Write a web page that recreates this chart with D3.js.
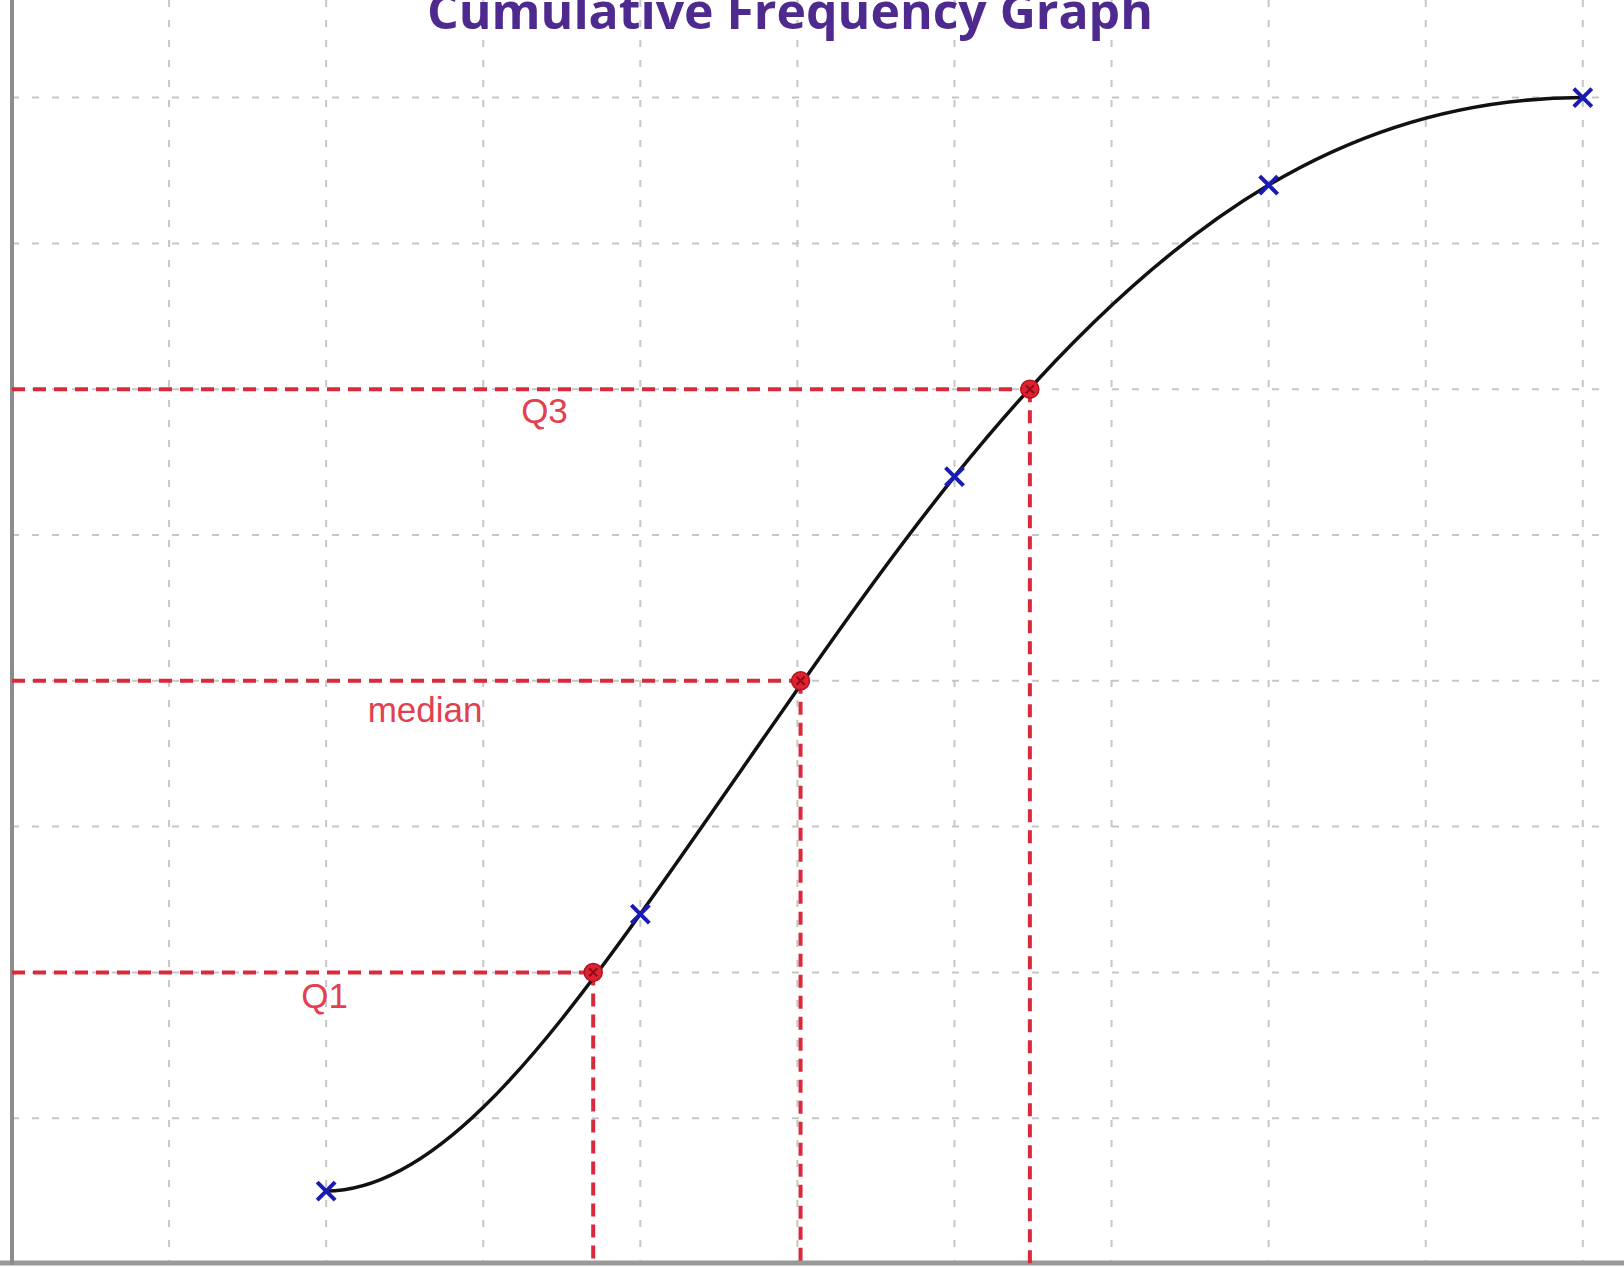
<!DOCTYPE html>
<html>
<head>
<meta charset="utf-8">
<script src="https://cdn.jsdelivr.net/npm/d3@7"></script>
<style>
  html, body { margin: 0; padding: 0; background: #ffffff; }
  svg { display: block; }
</style>
</head>
<body>
<svg id="chart" width="1624" height="1268"></svg>
<script>
// ---- data ----
const title = "Cumulative Frequency Graph";
const upperBounds = [2, 4, 6, 8, 10];          // x positions of plotted points (grid units)
const cumulativeFreq = [5, 24, 54, 74, 80];    // cumulative frequencies
const quartileNames = ["Q1", "median", "Q3"];
const quartileValues = [20, 40, 60];           // cumulative frequency at quartiles
const quartileX = [3.70, 5.02, 6.48];          // x read where the quartile lines meet the curve
const labelX = [1.99, 2.63, 3.39];             // label centres (grid units)
const labelDy = [36, 41, 34];                  // label baseline offset below its line (px)
const xGrid = [1, 2, 3, 4, 5, 6, 7, 8, 9, 10];
const yGrid = [10, 20, 30, 40, 50, 60, 70, 80];

// ---- layout ----
const W = 1624, H = 1268;
const x0 = 12, yBase = 1264;
const x = d3.scaleLinear().domain([0, 10.18]).range([x0, x0 + 10.18 * 157.08]);
const y = d3.scaleLinear().domain([0, 86.7]).range([yBase, yBase - 86.7 * 14.58]);

const svg = d3.select("#chart");

// clamped (zero end slope) cubic spline curve for d3.line
function ClampedSpline(context) { this._context = context; }
ClampedSpline.prototype = {
  areaStart() { this._line = 0; },
  areaEnd() { this._line = NaN; },
  lineStart() { this._xs = []; this._ys = []; },
  point(px, py) { this._xs.push(+px); this._ys.push(+py); },
  lineEnd() {
    const X = this._xs, Y = this._ys, n = X.length, c = this._context;
    if (!n) return;
    c.moveTo(X[0], Y[0]);
    if (n === 1) return;
    const h = [], d = [];
    for (let i = 0; i < n - 1; i++) { h[i] = X[i + 1] - X[i]; d[i] = (Y[i + 1] - Y[i]) / h[i]; }
    const m = new Array(n).fill(0);
    const k = n - 2;
    if (k > 0) {
      const a = [], b = [], cc = [], r = [];
      for (let j = 0; j < k; j++) {
        const i = j + 1;
        a[j] = 1 / h[i - 1];
        b[j] = 2 * (1 / h[i - 1] + 1 / h[i]);
        cc[j] = 1 / h[i];
        r[j] = 3 * (d[i - 1] / h[i - 1] + d[i] / h[i]);
      }
      for (let j = 1; j < k; j++) {
        const w = a[j] / b[j - 1];
        b[j] -= w * cc[j - 1];
        r[j] -= w * r[j - 1];
      }
      const sol = new Array(k);
      sol[k - 1] = r[k - 1] / b[k - 1];
      for (let j = k - 2; j >= 0; j--) sol[j] = (r[j] - cc[j] * sol[j + 1]) / b[j];
      for (let j = 0; j < k; j++) m[j + 1] = sol[j];
    }
    for (let i = 0; i < n - 1; i++) {
      const t = h[i] / 3;
      c.bezierCurveTo(X[i] + t, Y[i] + m[i] * t, X[i + 1] - t, Y[i + 1] - m[i + 1] * t, X[i + 1], Y[i + 1]);
    }
  }
};
const curveClamped = ctx => new ClampedSpline(ctx);

// ---- grid ----
const gridStyle = s => s.attr("stroke", "#c6c6c6").attr("stroke-width", 2).attr("stroke-dasharray", "7,13").attr("fill", "none");
svg.append("g").selectAll("line").data(xGrid).join("line")
  .attr("x1", d => x(d)).attr("x2", d => x(d))
  .attr("y1", 0).attr("y2", yBase)
  .call(gridStyle);
svg.append("g").selectAll("line").data(yGrid).join("line")
  .attr("x1", x0).attr("x2", x(10.18))
  .attr("y1", d => y(d)).attr("y2", d => y(d))
  .call(gridStyle);

// ---- axes ----
svg.append("g").attr("transform", `translate(0,${yBase - 1})`)
  .call(d3.axisBottom(x).tickValues([]).tickSizeOuter(0))
  .call(g => g.select(".domain").attr("stroke", "#9a9a9a").attr("stroke-width", 5).attr("d", `M0,0H${W}`));
svg.append("g").attr("transform", `translate(${x0},0)`)
  .call(d3.axisLeft(y).tickValues([]).tickSizeOuter(0))
  .call(g => g.select(".domain").attr("stroke", "#8c8c8c").attr("stroke-width", 4).attr("d", `M0,0V${yBase + 1}`));

// ---- quartile guide lines ----
const red = "#d9293b";
const qg = svg.append("g");
qg.selectAll("line.h").data(quartileValues).join("line").attr("class", "h")
  .attr("x1", x0).attr("x2", (d, i) => x(quartileX[i]))
  .attr("y1", d => y(d)).attr("y2", d => y(d))
  .attr("stroke", red).attr("stroke-width", 4).attr("stroke-dasharray", "13,8");
qg.selectAll("line.v").data(quartileValues).join("line").attr("class", "v")
  .attr("x1", (d, i) => x(quartileX[i])).attr("x2", (d, i) => x(quartileX[i]))
  .attr("y1", d => y(d)).attr("y2", yBase)
  .attr("stroke", red).attr("stroke-width", 4).attr("stroke-dasharray", "13,8");

// ---- curve ----
const pts = upperBounds.map((v, i) => [v, cumulativeFreq[i]]);
svg.append("path")
  .datum(pts)
  .attr("d", d3.line().x(d => x(d[0])).y(d => y(d[1])).curve(curveClamped))
  .attr("fill", "none").attr("stroke", "#111111").attr("stroke-width", 3.5);

// ---- quartile points ----
const qp = svg.append("g").selectAll("g").data(quartileValues).join("g")
  .attr("transform", (d, i) => `translate(${x(quartileX[i])},${y(d)})`);
qp.append("circle").attr("r", 9).attr("fill", "#dd2233").attr("stroke", "#b5121f").attr("stroke-width", 1.5);
qp.append("path").attr("d", "M-4,-4L4,4M-4,4L4,-4").attr("stroke", "#8e0a16").attr("stroke-width", 2);

// ---- plotted points (crosses) ----
svg.append("g").selectAll("path").data(pts).join("path")
  .attr("transform", d => `translate(${x(d[0])},${y(d[1])})`)
  .attr("d", "M-9,-9L9,9M-9,9L9,-9")
  .attr("stroke", "#1a1ab4").attr("stroke-width", 4).attr("fill", "none");

// ---- labels ----
svg.append("g").selectAll("text").data(quartileNames).join("text")
  .attr("x", (d, i) => x(labelX[i]))
  .attr("y", (d, i) => y(quartileValues[i]) + labelDy[i])
  .attr("text-anchor", "middle")
  .attr("font-family", "'Liberation Sans', Arial, sans-serif")
  .attr("font-size", 35)
  .attr("fill", "#e2404f")
  .text(d => d);

// ---- title ----
svg.append("text")
  .attr("x", 790).attr("y", 29)
  .attr("text-anchor", "middle")
  .attr("font-family", "'Open Sans', 'DejaVu Sans', sans-serif")
  .attr("font-weight", 700)
  .attr("font-size", 48)
  .attr("textLength", 726).attr("lengthAdjust", "spacingAndGlyphs")
  .attr("fill", "#4f2a8e")
  .text(title);
</script>
</body>
</html>
